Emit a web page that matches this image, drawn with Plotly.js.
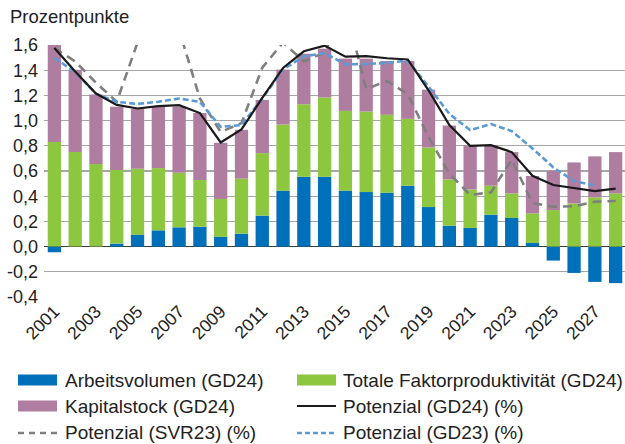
<!DOCTYPE html>
<html>
<head>
<meta charset="utf-8">
<script src="https://cdn.plot.ly/plotly-3.0.1.min.js"></script>
<style>
  html, body { margin: 0; padding: 0; background: #ffffff; }
  #chart { width: 625px; height: 444px; }
</style>
</head>
<body>
<div id="chart"></div>
<script>
// ---- data ----
const years = [2001, 2002, 2003, 2004, 2005, 2006, 2007, 2008, 2009, 2010,
               2011, 2012, 2013, 2014, 2015, 2016, 2017, 2018, 2019, 2020,
               2021, 2022, 2023, 2024, 2025, 2026, 2027, 2028];

const arbeitsvolumen = [-0.045, 0.0, 0.0, 0.024, 0.095, 0.129, 0.153, 0.158, 0.077, 0.103,
                        0.246, 0.444, 0.554, 0.554, 0.444, 0.433, 0.428, 0.483, 0.314, 0.166,
                        0.148, 0.253, 0.227, 0.029, -0.111, -0.209, -0.280, -0.290];

const tfp = [0.830, 0.750, 0.655, 0.583, 0.523, 0.494, 0.433, 0.370, 0.301, 0.436,
             0.496, 0.525, 0.576, 0.629, 0.633, 0.639, 0.618, 0.531, 0.473, 0.367,
             0.306, 0.230, 0.195, 0.235, 0.290, 0.343, 0.391, 0.422];

const kapitalstock = [0.780, 0.653, 0.552, 0.502, 0.475, 0.486, 0.523, 0.533, 0.446, 0.388,
                      0.422, 0.436, 0.401, 0.388, 0.415, 0.420, 0.427, 0.459, 0.459, 0.428,
                      0.349, 0.320, 0.328, 0.296, 0.312, 0.325, 0.325, 0.328];

const potenzialGD24 = [1.576, 1.390, 1.215, 1.125, 1.096, 1.115, 1.122, 1.060, 0.827, 0.930,
                       1.180, 1.418, 1.550, 1.595, 1.507, 1.512, 1.495, 1.485, 1.240, 0.964,
                       0.800, 0.805, 0.750, 0.562, 0.489, 0.462, 0.440, 0.460];

const potenzialSVR23 = [1.575, 1.470, 1.300, 1.150, 1.620, 1.800, 1.720, 1.175, 0.910, 0.980,
                        1.420, 1.620, 1.470, 1.540, 1.900, 1.250, 1.315, 1.210, 0.870, 0.580,
                        0.410, 0.430, 0.690, 0.345, 0.317, 0.320, 0.356, 0.362];

const potenzialGD23 = [1.497, 1.386, 1.212, 1.149, 1.132, 1.150, 1.175, 1.149, 0.950, 0.965,
                       1.175, 1.405, 1.510, 1.535, 1.447, 1.449, 1.458, 1.476, 1.270, 1.053,
                       0.925, 0.973, 0.917, 0.779, 0.629, 0.520, 0.485, null];

const xTickVals = [2001, 2003, 2005, 2007, 2009, 2011, 2013, 2015, 2017, 2019, 2021, 2023, 2025, 2027];
const xTickText = ["2001", "2003", "2005", "2007", "2009", "2011", "2013", "2015", "2017", "2019", "2021", "2023", "2025", "2027"];
const yTickVals = [-0.4, -0.2, 0.0, 0.2, 0.4, 0.6, 0.8, 1.0, 1.2, 1.4, 1.6];
const yTickText = ["-0,4", "-0,2", "0,0", "0,2", "0,4", "0,6", "0,8", "1,0", "1,2", "1,4", "1,6"];

const names = ["Arbeitsvolumen (GD24)", "Totale Faktorproduktivität (GD24)", "Kapitalstock (GD24)",
               "Potenzial (GD24) (%)", "Potenzial (SVR23) (%)", "Potenzial (GD23) (%)"];
const yAxisLabel = "Prozentpunkte";

// ---- styles ----
const cBlue = "#0070BA", cGreen = "#8DC63F", cPurple = "#AF7D9F";
const cBlack = "#1a1a1a", cGray = "#7f7f7f", cLightBlue = "#5B9BD5";
const FONT = "Liberation Sans, Arial, Helvetica, sans-serif";
const txtColor = "#222222";

const traces = [
  {type: "bar", name: names[0], x: years, y: arbeitsvolumen, marker: {color: cBlue}, showlegend: false, hoverinfo: "x+y"},
  {type: "bar", name: names[1], x: years, y: tfp, marker: {color: cGreen}, showlegend: false, hoverinfo: "x+y"},
  {type: "bar", name: names[2], x: years, y: kapitalstock, marker: {color: cPurple}, showlegend: false, hoverinfo: "x+y"},
  {type: "scatter", mode: "lines", name: names[4], x: years, y: potenzialSVR23,
   line: {color: cGray, width: 2.6, dash: "9px,6px"}, showlegend: false},
  {type: "scatter", mode: "lines", name: names[5], x: years, y: potenzialGD23,
   line: {color: cLightBlue, width: 2.6, dash: "6px,3px"}, showlegend: false},
  {type: "scatter", mode: "lines", name: names[3], x: years, y: potenzialGD24,
   line: {color: cBlack, width: 2.2}, showlegend: false}
];

// plot area in pixels: x 44..625, y 45..297
const L = 44, R = 625, T = 45, B = 297;
const px = v => (v - L) / (R - L);
const py = v => (B - v) / (B - T);

// custom legend
const legendRows = [380, 406, 433];
const col1Sym = [18, 57], col2Sym = [297, 336];
const col1Text = 63, col2Text = 341;
const legendItems = [
  {name: names[0], kind: "box", color: cBlue, col: 1, row: 0},
  {name: names[1], kind: "box", color: cGreen, col: 2, row: 0},
  {name: names[2], kind: "box", color: cPurple, col: 1, row: 1},
  {name: names[3], kind: "line", color: cBlack, dash: "solid", width: 2.2, col: 2, row: 1},
  {name: names[4], kind: "line", color: cGray, dash: "6px,5px", width: 2.6, col: 1, row: 2},
  {name: names[5], kind: "line", color: cLightBlue, dash: "5px,3px", width: 2.6, col: 2, row: 2}
];
const shapes = [];
const annotations = [{
  text: yAxisLabel, xref: "paper", yref: "paper", x: px(8), y: py(17),
  xanchor: "left", yanchor: "middle", showarrow: false,
  font: {family: FONT, size: 18.5, color: txtColor}
}];
legendItems.forEach(it => {
  const sym = it.col === 1 ? col1Sym : col2Sym;
  const tx = it.col === 1 ? col1Text : col2Text;
  const yc = legendRows[it.row];
  if (it.kind === "box") {
    shapes.push({type: "rect", xref: "paper", yref: "paper",
      x0: px(sym[0]), x1: px(sym[1]), y0: py(yc + 5.5), y1: py(yc - 5.5),
      fillcolor: it.color, line: {width: 0}});
  } else {
    shapes.push({type: "line", xref: "paper", yref: "paper",
      x0: px(sym[0]), x1: px(sym[1]), y0: py(yc), y1: py(yc),
      line: {color: it.color, width: it.width, dash: it.dash}});
  }
  annotations.push({text: it.name, xref: "paper", yref: "paper", x: px(tx), y: py(yc),
    xanchor: "left", yanchor: "middle", showarrow: false,
    font: {family: FONT, size: 19, color: txtColor}});
});

const layout = {
  width: 625, height: 444,
  margin: {l: L, r: 625 - R, t: T, b: 444 - B, pad: 0},
  paper_bgcolor: "#ffffff", plot_bgcolor: "#ffffff",
  font: {family: FONT, size: 18, color: txtColor},
  barmode: "relative", bargap: 0.36,
  showlegend: false,
  separators: ",.",
  xaxis: {
    range: [2000.5, 2028.45], tickmode: "array", tickvals: xTickVals, ticktext: xTickText,
    tickangle: -45, showgrid: false, zeroline: false, showline: false, ticks: "",
    tickfont: {family: FONT, size: 17.5, color: txtColor}, fixedrange: true
  },
  yaxis: {
    range: [-0.4, 1.6], tickmode: "array", tickvals: yTickVals, ticktext: yTickText,
    showgrid: true, gridcolor: "#a6a6a6", gridwidth: 1.2,
    zeroline: true, zerolinecolor: "#3c3c3c", zerolinewidth: 1.6,
    showline: false, ticks: "", ticklabelstandoff: 5,
    tickfont: {family: FONT, size: 18, color: txtColor}, fixedrange: true
  },
  shapes: shapes,
  annotations: annotations
};

Plotly.newPlot("chart", traces, layout, {displayModeBar: false, staticPlot: true});
</script>
</body>
</html>
